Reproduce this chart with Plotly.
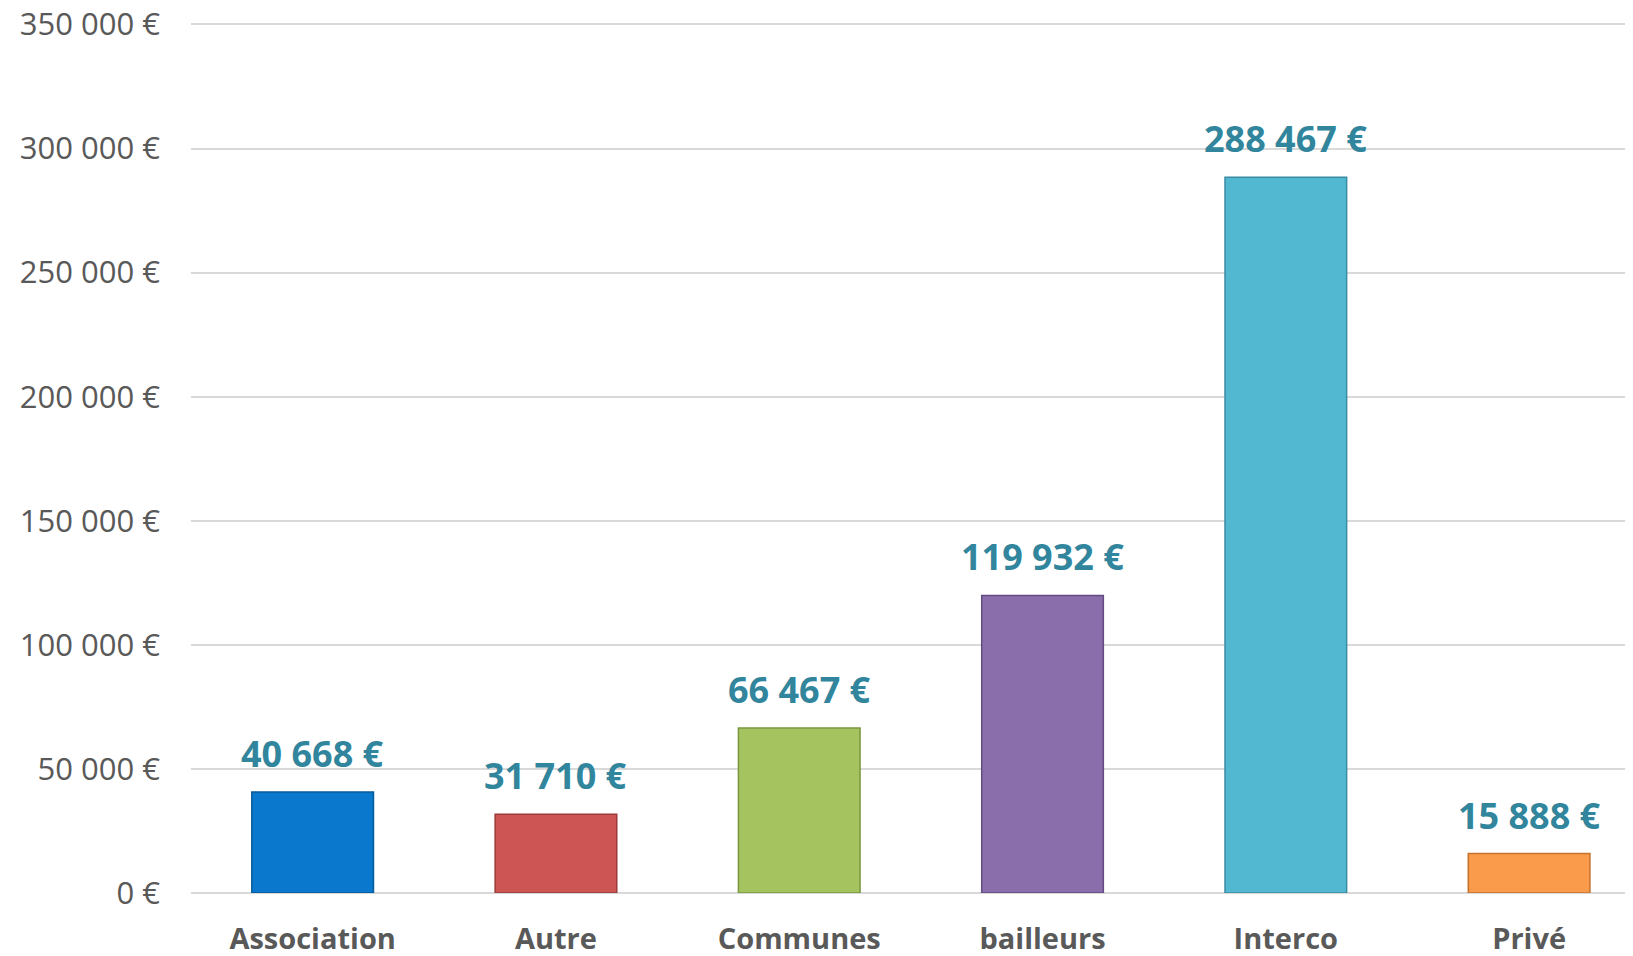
import plotly.graph_objects as go

categories = ["Association", "Autre", "Communes", "bailleurs", "Interco", "Privé"]
values = [40668, 31710, 66467, 119932, 288467, 15888]
bar_colors = ["#0A78CC", "#CD5654", "#A5C45F", "#8A6DAB", "#52B7D0", "#F99B4A"]
edge_colors = ["#075A9A", "#9C3D3B", "#7A9640", "#634C82", "#3A8CA2", "#C6722E"]
y_tickvals = [0, 50000, 100000, 150000, 200000, 250000, 300000, 350000]


def fmt(v):
    return f"{v:,}".replace(",", " ") + " €"


FONT = "Open Sans"

fig = go.Figure()
fig.add_trace(go.Bar(
    x=categories,
    y=values,
    width=0.5,
    marker=dict(color=bar_colors, line=dict(color=edge_colors, width=1.5)),
    hoverinfo="skip",
))

for c, v in zip(categories, values):
    fig.add_annotation(
        x=c, y=v, text=fmt(v),
        showarrow=False, yanchor="bottom", yshift=12,
        font=dict(family=FONT, size=36, color="#31859C", weight="bold"),
    )

fig.update_layout(
    width=1633, height=956,
    margin=dict(l=183, r=8, t=15, b=71, autoexpand=False),
    paper_bgcolor="white", plot_bgcolor="white",
    showlegend=False,
)
fig.update_xaxes(
    range=[-0.5, 5.427], automargin=False,
    showgrid=False, showline=False, zeroline=False,
    ticks="", ticklabelstandoff=26, ticklabeloverflow="allow",
    tickfont=dict(family=FONT, size=29, color="#595959", weight="bold"),
)
fig.update_yaxes(
    range=[0, 350600], automargin=False,
    tickvals=y_tickvals, ticktext=[fmt(v) for v in y_tickvals],
    showgrid=True, gridcolor="#D9D9D9", gridwidth=2,
    zeroline=True, zerolinecolor="#D9D9D9", zerolinewidth=2,
    showline=False, ticks="", ticklabelstandoff=30, ticklabeloverflow="allow",
    tickfont=dict(family=FONT, size=31, color="#595959"),
)

fig.write_html("out.html")
